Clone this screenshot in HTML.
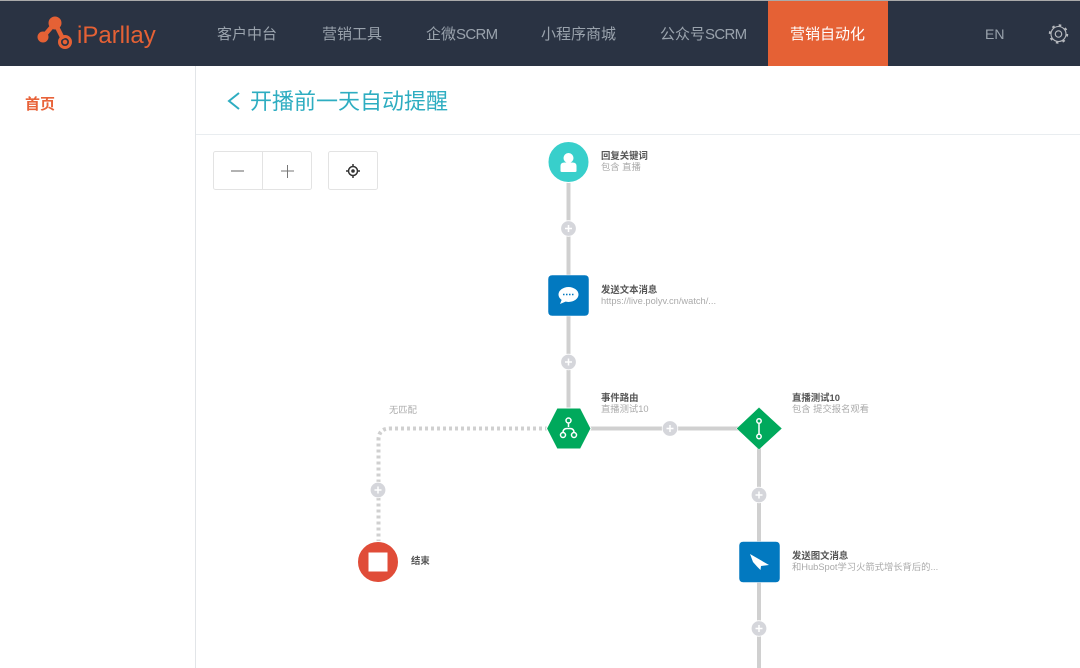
<!DOCTYPE html>
<html><head><meta charset="utf-8"><style>
*{margin:0;padding:0;box-sizing:border-box}
html,body{width:1080px;height:668px;overflow:hidden;background:#fff;font-family:"Liberation Sans","Noto Sans CJK SC",sans-serif}
.t{position:absolute;white-space:nowrap;line-height:1}
.n{font-size:15px;color:#9aa3ad;top:27px}
.n span{letter-spacing:-.7px}
.b{font-size:9.400px;color:#555;font-weight:bold}
.s{font-size:9.300px;color:#aaa}
</style></head><body>
<div style="position:absolute;left:0;top:0;width:1080px;height:66px;background:#2a3343;border-top:1px solid #aaa"></div>
<div style="position:absolute;left:768px;top:1px;width:120px;height:65px;background:#e56135"></div>
<svg style="position:absolute;left:0;top:0" width="1080" height="668">
<g stroke="#e56135" fill="#e56135"><path d="M43 37 L55 23 L63 39" fill="none" stroke-width="4.500"/><circle cx="43" cy="37" r="5"/><circle cx="55" cy="23" r="6"/><circle cx="65" cy="42" r="5.500" fill="none" stroke-width="3"/><circle cx="65" cy="42" r="1.800"/></g>
<g fill="none" stroke="#b5b8bd"><circle cx="1058.500" cy="34" r="3.200" stroke-width="1.200"/><circle cx="1058.500" cy="34" r="7.500" stroke-width="1.100"/><circle cx="1058.500" cy="34" r="8.800" stroke-width="1.800" stroke-dasharray="2.600 4.300"/></g>
<path d="M239 93 L229 101 L239 109" fill="none" stroke="#2eadc1" stroke-width="2"/>
<g stroke="#d0d0d0" stroke-width="4" fill="none">
<path d="M568.500 180V410M590 428.500H740M759 448V668"/>
<path d="M548 428.500H390Q378.500 428.500 378.500 440V545" stroke-dasharray="3 3"/>
</g>
<g fill="#d5d6db" stroke="#fff" stroke-width=".8"><circle cx="568.500" cy="228.500" r="7.800"/><circle cx="568.500" cy="362" r="7.800"/><circle cx="670" cy="428.500" r="7.800"/><circle cx="759" cy="495" r="7.800"/><circle cx="759" cy="628.500" r="7.800"/><circle cx="378" cy="490" r="7.800"/></g>
<g stroke="#fff" stroke-width="1.500"><path d="M565 228.500h7M568.500 225v7M565 362h7M568.500 358.500v7M666.500 428.500h7M670 425v7M755.500 495h7M759 491.500v7M755.500 628.500h7M759 625v7M374.500 490h7M378 486.500v7"/></g>
<circle cx="568.500" cy="162" r="20.500" fill="#38cfcb" stroke="#fff" stroke-width="1"/>
<circle cx="568.500" cy="158" r="5" fill="#fff"/><path d="M560.500 171v-5q0-3.500 4-3.500h8q4 0 4 3.500v5q0 1-2 1h-12q-2 0-2-1z" fill="#fff"/>
<rect x="548" y="275" width="41" height="41" rx="4" fill="#0279c0" stroke="#fff" stroke-width=".5"/>
<ellipse cx="568.500" cy="294.500" rx="10" ry="7.500" fill="#fff"/><path d="M562 299l-2 5 7-3z" fill="#fff"/><path d="M563 294.500h11" stroke="#0279c0" stroke-width="1.500" stroke-dasharray="1.500 1.500"/>
<polygon points="546.500,428.500 557,408 580.500,408 591,428.500 580.500,449 557,449" fill="#00a95c" stroke="#fff" stroke-width="1"/>
<g fill="none" stroke="#fff" stroke-width="1.500"><circle cx="568.500" cy="420.500" r="2.500"/><circle cx="563" cy="435" r="2.500"/><circle cx="574" cy="435" r="2.500"/><path d="M568.500 423v4M563 432.500q0-4 4-4h3q4 0 4 4"/></g>
<polygon points="759,407.300 782,428.500 759,449.700 736.500,428.500" fill="#00a95c" stroke="#fff" stroke-width=".5"/>
<g fill="none" stroke="#fff" stroke-width="1.500"><circle cx="759" cy="421" r="2.200"/><circle cx="759" cy="436.500" r="2.200"/><path d="M759 423v11"/></g>
<rect x="739" y="541.500" width="41" height="41" rx="4" fill="#0279c0" stroke="#fff" stroke-width=".5"/>
<path d="M750 554L769 565 761 566 760.500 570 757 566.500 753 562z" fill="#fff"/>
<circle cx="378" cy="562" r="20.500" fill="#e04c38" stroke="#fff" stroke-width="1"/><rect x="368.500" y="552.500" width="19" height="19" fill="#fff"/>
<g fill="none" stroke="#e2e5e8"><path d="M195.500 66V668"/></g>
<path d="M196 134.500H1080" stroke="#e9edf0"/>
<g fill="#fff" stroke="#e3e3e3"><rect x="213.500" y="151.500" width="98" height="38" rx="2"/><rect x="328.500" y="151.500" width="49" height="38" rx="2"/></g>
<path d="M262.500 152v37" stroke="#e3e3e3"/>
<path d="M231 171h13" stroke="#999" stroke-width="1.500"/><path d="M281 171h13M287.500 165v13" stroke="#777"/>
<circle cx="353" cy="171" r="4.500" fill="none" stroke="#333" stroke-width="1.500"/><circle cx="353" cy="171" r="1.800" fill="#333"/><path d="M353 164v3M353 175v3M346 171h3M357 171h3" stroke="#333" stroke-width="1.500"/>
</svg>
<div class="t" style="left:77px;top:24px;font-size:24px;color:#e56135">iParllay</div>
<div class="t n" style="left:217px">客户中台</div>
<div class="t n" style="left:322px">营销工具</div>
<div class="t n" style="left:426px">企微<span>SCRM</span></div>
<div class="t n" style="left:541px">小程序商城</div>
<div class="t n" style="left:660px">公众号<span>SCRM</span></div>
<div class="t n" style="left:790px;color:#fff">营销自动化</div>
<div class="t n" style="left:985px;font-size:14px;top:27px">EN</div>
<div class="t" style="left:25px;top:97px;font-size:15px;font-weight:bold;color:#e8633a">首页</div>
<div class="t" style="left:250px;top:91px;font-size:22px;color:#2eadc1">开播前一天自动提醒</div>
<div class="t b" style="left:601px;top:151px">回复关键词</div>
<div class="t s" style="left:601px;top:163px">包含 直播</div>
<div class="t b" style="left:601px;top:285px">发送文本消息</div>
<div class="t s" style="left:601px;top:297px">https://live.polyv.cn/watch/...</div>
<div class="t b" style="left:601px;top:393px">事件路由</div>
<div class="t s" style="left:601px;top:405px">直播测试10</div>
<div class="t b" style="left:792px;top:393px">直播测试10</div>
<div class="t s" style="left:792px;top:405px">包含 提交报名观看</div>
<div class="t s" style="left:389px;top:406px">无匹配</div>
<div class="t b" style="left:411px;top:556px">结束</div>
<div class="t b" style="left:792px;top:551px">发送图文消息</div>
<div class="t s" style="left:792px;top:563px">和HubSpot学习火箭式增长背后的...</div>
</body></html>
